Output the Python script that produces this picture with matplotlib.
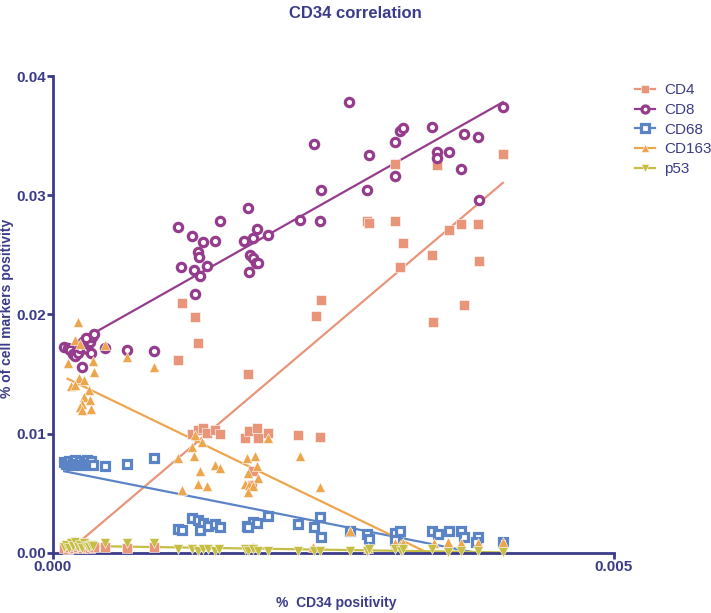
import numpy as np
import matplotlib
matplotlib.use("Agg")
import matplotlib.pyplot as plt

# values (x = % CD34 positivity, y = % marker positivity)
cd4_x = [0.00010, 0.00013, 0.00015, 0.00018, 0.00020, 0.00022, 0.00024, 0.00026, 0.00028, 0.00030,
         0.00033, 0.00035, 0.00037, 0.00046, 0.00066, 0.00090,
         0.00111, 0.00115, 0.00127, 0.00129, 0.00124, 0.00129, 0.00134, 0.00137, 0.00144, 0.00149,
         0.00171, 0.00175, 0.00182, 0.00183, 0.00192, 0.00174, 0.00178, 0.00177, 0.00218, 0.00238,
         0.00234, 0.00239, 0.00280, 0.00282, 0.00305, 0.00309, 0.00312, 0.00305, 0.00342, 0.00338,
         0.00353, 0.00364, 0.00379, 0.00380, 0.00401, 0.00339, 0.00366]
cd4_y = [0.0004, 0.0003, 0.0005, 0.0004, 0.0006, 0.0005, 0.0007, 0.0004, 0.0006, 0.0005,
         0.0004, 0.0006, 0.0005, 0.0005, 0.0004, 0.0005,
         0.0162, 0.0210, 0.0198, 0.0176, 0.0100, 0.0103, 0.0105, 0.0101, 0.0103, 0.0100,
         0.0096, 0.0102, 0.0105, 0.0096, 0.0101, 0.0150, 0.0069, 0.0057, 0.0099, 0.0097,
         0.0199, 0.0212, 0.0278, 0.0277, 0.0278, 0.0240, 0.0260, 0.0326, 0.0325, 0.0250,
         0.0271, 0.0276, 0.0276, 0.0245, 0.0335, 0.0194, 0.0208]

cd8_x = [0.00010, 0.00013, 0.00015, 0.00018, 0.00020, 0.00022, 0.00024, 0.00026, 0.00028, 0.00030,
         0.00031, 0.00033, 0.00035, 0.00037, 0.00026, 0.00034, 0.00029, 0.00046, 0.00066, 0.00090,
         0.00111, 0.00124, 0.00129, 0.00130, 0.00114, 0.00126, 0.00131, 0.00137, 0.00134, 0.00144,
         0.00149, 0.00127, 0.00170, 0.00174, 0.00178, 0.00176, 0.00178, 0.00181, 0.00183, 0.00175,
         0.00182, 0.00192, 0.00220, 0.00238, 0.00233, 0.00239, 0.00264, 0.00280, 0.00282, 0.00305,
         0.00305, 0.00309, 0.00312, 0.00338, 0.00342, 0.00342, 0.00353, 0.00364, 0.00366, 0.00379,
         0.00380, 0.00401]
cd8_y = [0.0173, 0.0172, 0.0170, 0.0167, 0.0165, 0.0168, 0.0172, 0.0176, 0.0178, 0.0171,
         0.0175, 0.0177, 0.0181, 0.0184, 0.0156, 0.0168, 0.0180, 0.0172, 0.0170, 0.0169,
         0.0273, 0.0266, 0.0252, 0.0248, 0.0240, 0.0237, 0.0232, 0.0241, 0.0261, 0.0262,
         0.0278, 0.0217, 0.0262, 0.0289, 0.0264, 0.0250, 0.0247, 0.0243, 0.0243, 0.0236,
         0.0272, 0.0267, 0.0279, 0.0278, 0.0343, 0.0304, 0.0378, 0.0304, 0.0334, 0.0345,
         0.0316, 0.0354, 0.0356, 0.0357, 0.0336, 0.0331, 0.0336, 0.0322, 0.0351, 0.0349,
         0.0296, 0.0374]

cd68_x = [0.00010, 0.00012, 0.00014, 0.00016, 0.00018, 0.00020, 0.00022, 0.00024, 0.00026, 0.00028,
          0.00030, 0.00032, 0.00034, 0.00036, 0.00046, 0.00066, 0.00090,
          0.00111, 0.00115, 0.00124, 0.00129, 0.00134, 0.00131, 0.00138, 0.00144, 0.00149, 0.00173,
          0.00178, 0.00182, 0.00174, 0.00192, 0.00218, 0.00238, 0.00233, 0.00239, 0.00265, 0.00280,
          0.00282, 0.00305, 0.00309, 0.00305, 0.00338, 0.00343, 0.00353, 0.00364, 0.00366, 0.00379,
          0.00377, 0.00401]
cd68_y = [0.0076, 0.0075, 0.0077, 0.0074, 0.0076, 0.0078, 0.0075, 0.0077, 0.0074, 0.0076,
          0.0078, 0.0075, 0.0077, 0.0074, 0.0073, 0.0075, 0.0080,
          0.0020, 0.0019, 0.0029, 0.0028, 0.0025, 0.0019, 0.0023, 0.0024, 0.0022, 0.0023,
          0.0026, 0.0025, 0.0022, 0.0031, 0.0024, 0.0030, 0.0022, 0.0013, 0.0018, 0.0016,
          0.0012, 0.0017, 0.0018, 0.0011, 0.0018, 0.0016, 0.0018, 0.0018, 0.0013, 0.0013,
          0.0009, 0.0009]

cd163_x = [0.00022, 0.00020, 0.00024, 0.00013, 0.00036, 0.00037, 0.00046, 0.00066, 0.00090, 0.00023,
           0.00028, 0.00016, 0.00020, 0.00032, 0.00028, 0.00033, 0.00026, 0.00024, 0.00026, 0.00034,
           0.00111, 0.00115, 0.00127, 0.00133, 0.00124, 0.00126, 0.00131, 0.00144, 0.00149, 0.00129,
           0.00137, 0.00173, 0.00180, 0.00182, 0.00174, 0.00183, 0.00171, 0.00175, 0.00178, 0.00174,
           0.00192, 0.00220, 0.00238, 0.00178, 0.00232, 0.00265, 0.00281, 0.00305, 0.00309, 0.00312,
           0.00340, 0.00352, 0.00364, 0.00379, 0.00401]
cd163_y = [0.0194, 0.0179, 0.0175, 0.0159, 0.0161, 0.0152, 0.0174, 0.0164, 0.0156, 0.0147,
           0.0145, 0.0140, 0.0141, 0.0137, 0.0131, 0.0128, 0.0125, 0.0122, 0.0120, 0.0121,
           0.0080, 0.0053, 0.0099, 0.0093, 0.0089, 0.0081, 0.0069, 0.0074, 0.0071, 0.0058,
           0.0056, 0.0080, 0.0081, 0.0073, 0.0067, 0.0063, 0.0058, 0.0057, 0.0056, 0.0051,
           0.0096, 0.0081, 0.0055, 0.0005, 0.0005, 0.0018, 0.0004, 0.0008, 0.0007, 0.0008,
           0.0008, 0.0009, 0.0008, 0.0008, 0.0009]

p53_x = [0.00010, 0.00012, 0.00014, 0.00016, 0.00018, 0.00020, 0.00022, 0.00024, 0.00026, 0.00028,
         0.00030, 0.00032, 0.00034, 0.00036, 0.00046, 0.00066, 0.00090,
         0.00111, 0.00124, 0.00129, 0.00134, 0.00138, 0.00144, 0.00148, 0.00171, 0.00174, 0.00178,
         0.00183, 0.00192, 0.00218, 0.00233, 0.00238, 0.00265, 0.00280, 0.00282, 0.00305, 0.00310,
         0.00312, 0.00338, 0.00352, 0.00364, 0.00379, 0.00401]
p53_y = [0.0005, 0.0007, 0.0004, 0.0008, 0.0006, 0.0009, 0.0005, 0.0007, 0.0004, 0.0008,
         0.0006, 0.0005, 0.0007, 0.0006, 0.0008, 0.0008, 0.0008,
         0.0003, 0.0003, 0.0002, 0.0003, 0.0003, 0.0002, 0.0003, 0.0003, 0.0002, 0.0003,
         0.0002, 0.0002, 0.0002, 0.0002, 0.0002, 0.0002, 0.0002, 0.0003, 0.0003, 0.0002,
         0.0003, 0.0003, 0.0001, 0.0002, 0.0002, 0.0001]

navy = '#3b3b8a'
plt.rcParams['font.family'] = ['Liberation Sans', 'DejaVu Sans']

fig = plt.figure(figsize=(7.11, 6.13), dpi=100)
ax = fig.add_axes([0.0745, 0.098, 0.789, 0.778])

series = [
    ('CD4', cd4_x, cd4_y, '#e8957a', dict(marker='s', ms=6.5, mfc='#e8957a', mec='white', mew=0.4)),
    ('CD8', cd8_x, cd8_y, '#963c8c', dict(marker='o', ms=6, mfc='white', mec='#963c8c', mew=2.3)),
    ('CD68', cd68_x, cd68_y, '#5b84c6', dict(marker='s', ms=6.3, mfc='white', mec='#5b84c6', mew=2.3)),
    ('CD163', cd163_x, cd163_y, '#eda64e', dict(marker='^', ms=7, mfc='#eda64e', mec='white', mew=0.4)),
    ('p53', p53_x, p53_y, '#c6bd45', dict(marker='v', ms=7, mfc='#c6bd45', mec='white', mew=0.4)),
]

for i, (name, xs, ys, col, mk) in enumerate(series):
    xs = np.array(xs)
    ys = np.array(ys)
    k, b = np.polyfit(xs, ys, 1)
    xx = np.array([xs.min(), xs.max()])
    ax.plot(xx, k * xx + b, color=col, lw=1.6, zorder=2 + i * 0.1)
    ax.plot(xs, ys, ls='none', zorder=3 + i * 0.1, clip_on=False, **mk)
    # legend handle: line + marker
    lmk = dict(mk)
    lmk['ms'] = mk['ms'] * 0.85
    ax.plot([], [], color=col, lw=1.6, label=name, **lmk)

ax.set_xlim(0, 0.005)
ax.set_ylim(0, 0.04)
ax.set_xticks([0, 0.005])
ax.set_xticklabels(['0.000', '0.005'])
ax.set_yticks([0, 0.01, 0.02, 0.03, 0.04])
ax.set_yticklabels(['0.00', '0.01', '0.02', '0.03', '0.04'])
for lbl in ax.get_xticklabels() + ax.get_yticklabels():
    lbl.set_fontweight('bold')
    lbl.set_fontsize(11)
    lbl.set_color(navy)
ax.tick_params(direction='out', length=4, width=2, color=navy, pad=1)

for s in ['top', 'right']:
    ax.spines[s].set_visible(False)
for s in ['left', 'bottom']:
    ax.spines[s].set_color(navy)
    ax.spines[s].set_linewidth(2)

ax.set_xlabel('%  CD34 positivity', fontsize=10, fontweight='bold', color=navy)
ax.xaxis.set_label_coords(0.505, -0.09)
ax.set_ylabel('% of cell markers positivity', fontsize=10, fontweight='bold', color=navy)
ax.yaxis.set_label_coords(-0.069, 0.513)
fig.text(0.5, 0.978, 'CD34 correlation', ha='center', va='center',
         fontsize=12, fontweight='bold', color=navy)

leg = fig.legend(loc='upper left', bbox_to_anchor=(0.886, 0.872), frameon=False,
                 handlelength=1.35, fontsize=11, labelspacing=0.38, handletextpad=0.6,
                 borderaxespad=0, borderpad=0.3)
for t in leg.get_texts():
    t.set_color(navy)

fig.savefig('out.png', dpi=100)
